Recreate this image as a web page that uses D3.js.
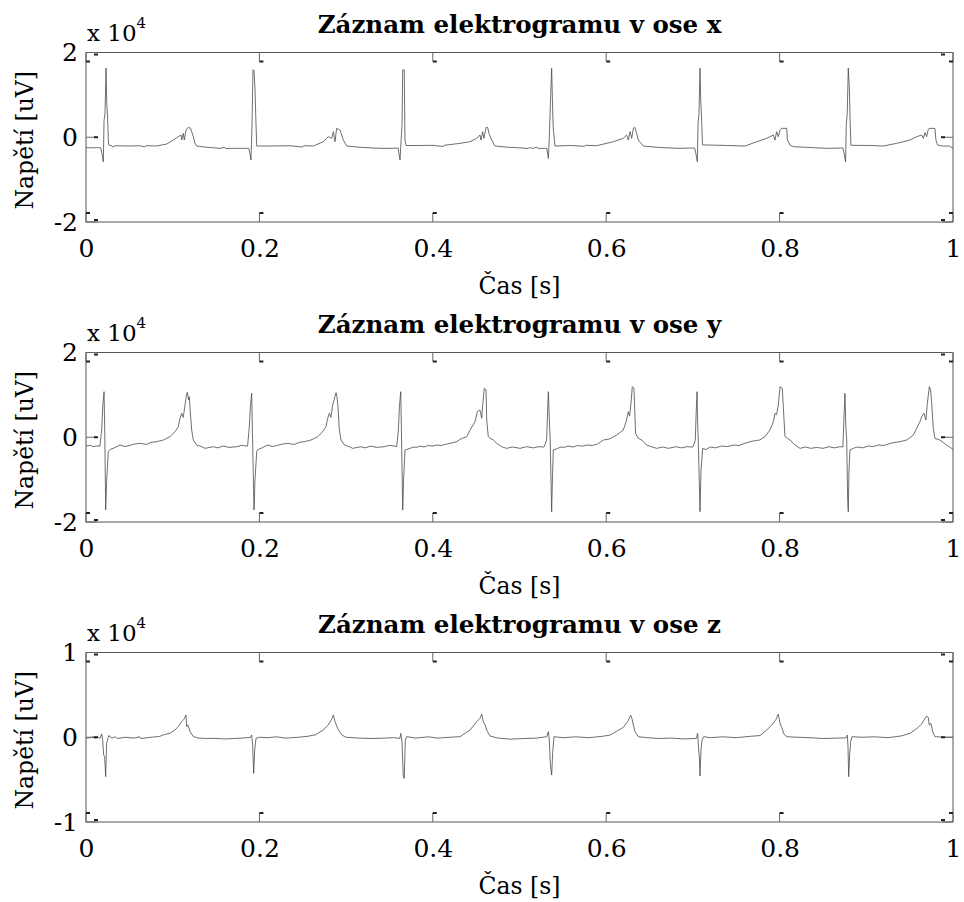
<!DOCTYPE html>
<html>
<head>
<meta charset="utf-8">
<script src="https://cdn.jsdelivr.net/npm/d3@7"></script>
<style>
  body { margin: 0; background: #fff; }
  svg text { font-family: "DejaVu Serif", serif; fill: #000; }
</style>
</head>
<body>
<div class="wrapper"></div>
<script>
// tick values
const timeTicks = [0, 0.2, 0.4, 0.6, 0.8, 1];
const axisNames = ["x", "y", "z"];
const yLimits = [2, 2, 1];          // in units of 10^4 uV
const yTicks = [[-2, 0, 2], [-2, 0, 2], [-1, 0, 1]];

// signals: [time ms, voltage uV]
const sigX = [
  [0,-2450],[6,-2500],[12,-2450],[17.0,-2500],[18.5,-4000],[20.0,-5800],[20.8,4000],[21.9,5500],[23.1,16300],[23.9,8000],[24.8,5000],
  [26.0,-1800],[30,-2070],[32,-2300],[33,-2000],[50,-2070],[62,-2000],[68,-2300],[69,-2000],[81.5,-2070],[93.1,-1600],[100.7,-650],
  [106.5,130],[109.6,530],[110.4,-650],[112.2,920],[113.4,-650],[115.3,1710],[118,2330],[120.7,2100],[121.9,1310],[123.8,130],
  [125.7,-1440],[127.7,-2070],[139.2,-2360],[154.6,-2620],[160,-2400],[161,-2650],[170,-2620],[185.3,-2620],
  [187.7,-2600],[189.2,-4000],[190.3,-5400],[191.5,3000],[192.6,15900],[193.8,15800],[195.0,11000],[195.8,5000],[196.9,-2070],
  [210,-2070],[235,-2000],[250,-2300],[251,-2000],[262.2,-2070],[273.7,-1050],[279.5,130],[283.4,-260],[285.3,1310],[287.2,-1050],
  [289.1,2100],[293,1710],[296.8,-650],[300.7,-2070],[316,-2360],[339.1,-2620],[355,-2600],
  [360,-2550],[362.2,-5400],[363.5,-600],[364.5,3000],[365.3,15900],[367.1,15900],[367.9,-650],[369.1,-1950],[385,-1950],[400,-1900],
  [412,-2200],[413,-1900],[431.4,-1440],[442.9,-1050],[450.6,-260],[454.4,530],[455.6,-650],[457.5,1310],[459.0,-260],[461.4,2330],
  [463.3,2330],[464.8,920],[467.9,-650],[471.7,-2070],[487.1,-2360],[500,-2500],[510,-2650],[511,-2450],[516,-2620],[519.8,-2300],[521,-2620],
  [531.4,-2620],[533.3,-4980],[534.4,-130],[535.5,6950],[537.1,16270],[538.2,6950],[538.9,2270],[540.9,-2070],[560,-1950],[575,-2150],
  [576,-1900],[589,-2000],[608.2,-1050],[619.7,-260],[623.6,530],[625.5,-650],[627.5,1310],[629.4,-260],[631.3,2100],[633.2,2330],
  [635.1,920],[637.0,-650],[642.8,-2070],[658.2,-2360],[670,-2500],[685.1,-2620],[695,-2550],
  [702,-2550],[703.6,-4000],[705.1,-5800],[705.9,3000],[707.0,5500],[708.2,16300],[709.0,9000],[709.9,5000],[711.1,-1800],[740,-1950],
  [760.1,-2070],[773.6,-1050],[785.1,-260],[792.8,530],[794.7,-650],[796.6,1310],[798.5,130],[800.5,1710],[802.4,2100],[808.2,2100],
  [809,-650],[812,-1830],[815.9,-2230],[830,-2360],[854.3,-2620],[870,-2550],
  [873,-2500],[874.6,-4000],[876.1,-5800],[876.9,3000],[878.0,5500],[879.2,16300],[880.4,12000],[881.2,5000],[882.2,-1900],[905,-1950],
  [919.6,-2070],[935,-1440],[950.4,-650],[958.1,130],[963.9,530],[965.8,-260],[967.7,1100],[969.6,130],[971.5,1900],[973.5,2100],
  [979.2,2100],[980.3,-650],[982.3,-1830],[988.1,-2070],[995.8,-2070],[1000,-2620]
];

const sigY = [
  [0,-2070],[5,-1900],[8,-2200],[12,-2070],
  [16.1,-2070],[18.1,1700],[19.3,7200],[20.8,10750],[21.6,1700],[22.7,-17170],[23.9,-10100],[25.7,-3400],[27.7,-2900],[31.5,-2620],
  [39.2,-1830],[45,-2200],[50.8,-1900],[56,-1600],[62.3,-1440],[70.0,-1700],[75,-1200],[81.5,-1050],[89.2,-650],[96.9,130],
  [102.7,1310],[106.5,2490],[108.4,4460],[110.4,5650],[112.2,4700],[114.2,7610],[116.1,10370],[116.9,10600],[118.4,8790],[119.1,9570],
  [120.7,4850],[121.9,1710],[123.8,-650],[127.7,-1830],[133.4,-2230],[137.3,-2620],[146.8,-2230],[152,-2500],[158.4,-2070],[165,-2400],
  [173.8,-2230],[180,-1900],[185.3,-2070],
  [186.4,-2070],[188.4,2490],[189.6,7200],[191.1,10370],[191.9,1700],[193.8,-17170],[194.9,-10100],[196.9,-3400],[198.0,-2900],
  [201.8,-2620],[209.5,-1830],[215,-2200],[221.1,-1900],[227,-1600],[232.6,-1440],[240.3,-1700],[246,-1200],[251.8,-1050],[259.5,-650],
  [267.2,130],[273.0,1310],[276.8,2490],[278.7,4460],[280.7,5650],[282.5,4700],[284.5,7610],[286.4,9000],[288.4,10520],[289.4,9570],
  [290.5,7600],[292.2,1710],[294.1,-650],[298.0,-1830],[303.7,-2230],[307.6,-2620],[317.1,-2230],[322,-2500],[328.7,-2070],[335,-2400],
  [344.1,-2230],[350,-1900],[355.6,-2070],
  [358.3,-2230],[360.3,1700],[361.5,7200],[363.0,10750],[363.8,1700],[365.3,-17170],[366.3,-10100],[367.9,-3000],[369.9,-2900],
  [373.7,-2620],[378,-2300],[381.4,-2400],[385,-2070],[390,-2300],[395,-1950],[400,-2100],[404.5,-1830],[410,-1950],[416,-1600],
  [423.7,-1260],[428,-1000],[431.4,-490],[439.1,130],[443.0,1710],[448.7,3670],[451.4,6030],[454.5,6430],[456.4,4470],[457.6,7610],
  [459.4,11550],[461.4,11160],[462.2,4070],[464.0,130],[466.0,-260],[469.8,-650],[473.7,-1440],[479.5,-2230],[485,-2620],[492,-2300],
  [500.6,-2620],[508,-2230],[516.0,-2500],[522,-2230],[527.5,-2300],
  [528.6,-2230],[531.3,-650],[532.2,5000],[533.3,10750],[534.7,2500],[535.4,-650],[537.1,-17570],[538.2,-8000],[539.0,-3000],[541,-2900],
  [544.0,-2620],[548,-2300],[551.7,-2400],[556,-2070],[562,-2300],[567,-1950],[573,-2100],[578,-1830],[584,-1950],[590,-1600],
  [596.7,-650],[604,-400],[612,520],[619.7,1710],[623,3670],[625.5,6030],[627,5000],[628.6,8010],[630.1,11940],[632.0,11550],
  [633.9,920],[637.0,-260],[641,-650],[646.7,-1830],[652,-2230],[658.2,-2620],[665,-2300],[672,-2620],[680,-2230],[687,-2500],
  [693,-2230],[698,-2300],
  [700,-2300],[702.8,-650],[703.6,5000],[704.8,10750],[705.5,3000],[706.2,-650],[708.2,-17570],[709.3,-8000],[711.3,-2620],[715,-2900],
  [720,-2300],[726,-2500],[733,-2070],[740,-2200],[747,-1830],[753,-1950],[759,-1500],[765.9,-1050],[772,-800],[777,-650],[783.2,130],
  [788.9,1710],[792.8,3670],[794.7,5650],[796.5,5300],[798.5,7610],[800.5,11940],[803.1,11550],[804.3,7220],[806.2,130],[809,-260],
  [812,-650],[817.8,-1830],[823.5,-2620],[830,-2300],[836,-2620],[842.8,-2400],[850,-2620],[857,-2230],[863,-2500],[869.7,-2230],
  [873,-2300],[874.3,5000],[875.4,10370],[876.4,2500],[877.4,-650],[878.5,-14700],[879.2,-17570],[880.0,-8000],[881.2,-3010],[885,-2620],
  [890,-2300],[896,-2500],[902,-2070],[908,-2200],[914,-1830],[920,-1950],[927,-1500],[932,-1260],[938.9,-1050],[946.6,-650],[954.2,520],
  [958.1,2100],[961.9,3670],[963.9,4850],[966.5,5650],[968.8,4070],[970.4,8010],[972.7,11940],[974.2,11160],[975.4,8010],[977.3,2100],
  [979.2,-260],[984.9,-650],[992.6,-1830],[998.4,-2620],[1000,-3010]
];

const sigZ = [
  [0,-100],[6,-50],[8,100],[9,-100],[14.2,0],[16,-150],[18.1,400],[19.2,-300],[20.4,-2100],[21.5,-2300],[22.7,-4650],[23.8,-700],
  [25,-300],[26.2,200],[30,-100],[34,50],[36,-150],[45,0],[55,-100],[62,50],[63,-150],[75,0],[85,100],[89.2,280],[96.9,480],
  [102.7,870],[106.5,1260],[110.4,1850],[113,2130],[115.3,2630],[116.1,1260],[117.6,1460],[120,670],[123.8,80],[130,-100],[140,-150],
  [146.8,-120],[160,-200],[170,-150],[180,-100],
  [189.9,0],[191.1,280],[192.2,-900],[193.4,-4260],[194.6,-1500],[196.1,-120],[200,0],[210,-50],[220,50],[230,-100],[245,0],[255,100],
  [265,300],[273.7,870],[279.5,1460],[283.4,2130],[285.3,2630],[287.2,1850],[291,870],[294.9,280],[300,0],[315,-100],[330,-150],
  [345,-100],[355,-50],
  [362,-130],[363,460],[364.5,-520],[366,-4650],[367.1,-4850],[368.3,-330],[369.9,70],[380,-100],[395,50],[405,-100],[420,0],
  [431.4,70],[442.9,850],[450.6,1830],[454.4,2220],[456.4,2730],[458.3,1830],[460.3,1440],[462.2,850],[466,150],[475,-100],[489,-220],
  [505,-150],[520,-100],
  [531.5,70],[533.3,660],[534.4,-330],[535.5,-3080],[537.1,-4460],[538.2,-1900],[539.8,70],[550,-50],[565,50],[580,-50],[595,100],
  [604.4,260],[612,700],[619.7,1170],[625.5,1960],[628.2,2610],[629.7,2220],[631.3,1440],[633.2,660],[637,70],[645,-30],[660,-150],
  [675,-100],[690,-200],[700,-150],
  [704,-130],[705.5,460],[706.7,-1510],[707.4,-2300],[708.2,-4580],[709.3,-1510],[710.5,-330],[712.4,70],[720,-50],[735,50],[750,-50],
  [765,100],[777.4,200],[785.1,850],[790.9,1440],[795.8,2100],[798.5,2730],[800.5,1640],[802.4,1170],[805,390],[808.2,70],[820,0],
  [835,-50],[850,-150],[865,-100],[875,-80],
  [877,-50],[878.1,260],[878.9,-1120],[879.7,-4650],[880.8,-2100],[882,-520],[883.5,70],[895,0],[910,50],[925,-50],[940,150],
  [950.4,460],[960,1170],[963.8,1560],[966.5,2030],[969.6,2500],[971.5,2340],[972.6,1440],[974.6,1640],[976.5,660],[979.2,70],
  [990,0],[1000,0]
];

const signals = [sigX, sigY, sigZ];

const width = 964, height = 902;
const left = 86, right = 953, plotH = 169.5;
const panelTop = 52.5, panelStep = 300;

const svg = d3.select(".wrapper").append("svg")
  .attr("width", width)
  .attr("height", height);

const x = d3.scaleLinear().domain([0, 1]).range([left, right]);

signals.forEach((sig, i) => {
  const top = panelTop + i * panelStep;
  const lim = yLimits[i];
  const y = d3.scaleLinear().domain([-lim, lim]).range([plotH, 0]);

  const g = svg.append("g").attr("transform", "translate(0," + top + ")");

  // signal
  const line = d3.line()
    .x(d => x(d[0] / 1000))
    .y(d => y(d[1] / 1e4));

  g.append("path")
    .datum(sig)
    .attr("fill", "none")
    .attr("stroke", "#4a4a4a")
    .attr("stroke-width", 0.8)
    .attr("d", line);

  // frame
  g.append("rect")
    .attr("x", left).attr("y", 0)
    .attr("width", right - left).attr("height", plotH)
    .attr("fill", "none")
    .attr("stroke", "#555")
    .attr("stroke-width", 1);

  // inner tick marks (x, top and bottom)
  const tk = g.append("g").attr("class", "ticks");
  timeTicks.forEach(t => {
    const px = x(t);
    [[0, 1], [plotH, -1]].forEach(([y0, dir]) => {
      tk.append("line")
        .attr("x1", px).attr("x2", px)
        .attr("y1", y0).attr("y2", y0 + dir * 9)
        .attr("stroke", "#666").attr("stroke-width", 1);
      tk.append("rect")
        .attr("x", t === 1 ? px - 4 : px)
        .attr("y", y0 + dir * 9 - 1)
        .attr("width", 4).attr("height", 2)
        .attr("fill", "#222");
    });
  });
  // inner tick marks (y, left and right)
  yTicks[i].forEach(v => {
    const py = y(v);
    [[left, 1], [right, -1]].forEach(([x0, dir]) => {
      tk.append("line")
        .attr("x1", x0).attr("x2", x0 + dir * 11)
        .attr("y1", py).attr("y2", py)
        .attr("stroke", "#666").attr("stroke-width", 1);
      tk.append("rect")
        .attr("x", dir > 0 ? x0 + 8 : x0 - 12)
        .attr("y", py + (v === lim ? 1 : v === -lim ? -3 : -1))
        .attr("width", 4).attr("height", 2)
        .attr("fill", "#222");
    });
  });

  // tick labels through d3 axes
  const xAxis = g.append("g")
    .attr("transform", "translate(0," + plotH + ")")
    .call(d3.axisBottom(x).tickValues(timeTicks).tickSize(0).tickPadding(17).tickFormat(d => String(d)));
  xAxis.select(".domain").remove();
  xAxis.selectAll("text").style("font-size", "25px").style("font-family", "DejaVu Serif");

  const yAxis = g.append("g")
    .attr("transform", "translate(" + left + ",0)")
    .call(d3.axisLeft(y).tickValues(yTicks[i]).tickSize(0).tickPadding(8).tickFormat(d => String(d)));
  yAxis.select(".domain").remove();
  yAxis.selectAll("text").style("font-size", "25px").style("font-family", "DejaVu Serif");

  // title
  g.append("text")
    .attr("x", (left + right) / 2)
    .attr("y", -19.5)
    .attr("text-anchor", "middle")
    .style("font-size", "24.5px")
    .style("font-weight", "bold")
    .text("Záznam elektrogramu v ose " + axisNames[i]);

  // exponent
  const ex = g.append("text")
    .attr("x", 87)
    .attr("y", -11.5)
    .style("font-size", "23px");
  ex.append("tspan").text("x 10");
  ex.append("tspan").attr("dy", -13).style("font-size", "15px").text("4");

  // axis labels
  g.append("text")
    .attr("x", (left + right) / 2)
    .attr("y", plotH + 72)
    .attr("text-anchor", "middle")
    .style("font-size", "23.5px")
    .text("Čas [s]");

  g.append("text")
    .attr("transform", "translate(33," + (plotH / 2 + 3) + ") rotate(-90)")
    .attr("text-anchor", "middle")
    .style("font-size", "23.5px")
    .text("Napětí [uV]");
});
</script>
</body>
</html>
